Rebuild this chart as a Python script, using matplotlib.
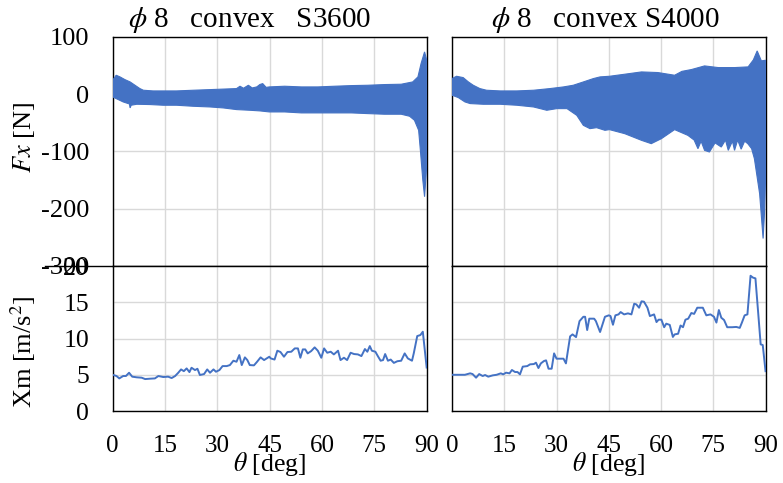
import matplotlib
matplotlib.use('Agg')
import matplotlib.pyplot as plt
from matplotlib.lines import Line2D

plt.rcParams['font.family'] = ['Liberation Serif', 'DejaVu Serif']
plt.rcParams['mathtext.fontset'] = 'stix'
plt.rcParams['axes.unicode_minus'] = False

BLUE = '#4472C4'
GRID = '#d9d9d9'

# Fx envelope (upper / lower bound of the oscillating force), S3600
fx1_up_deg = [0, 1.0, 2.1, 3.5, 5.0, 6.4, 7.8, 8.8, 11.6, 18.3, 23.1, 27.9, 35.5, 36.5, 37.5, 38.9,
              40.0, 41.3, 42.2, 43.0, 44.0, 44.9, 49.3, 54.1, 58.8, 63.6, 68.4, 73.1, 77.9, 82.7,
              86.0, 87.5, 88.4, 89.4, 90]
fx1_up = [24.5, 33.2, 30.3, 25.6, 21.5, 15.7, 9.9, 7.0, 5.8, 5.8, 7.0, 8.1, 9.9, 14.0, 10.5, 15.7,
          11.0, 12.8, 17.0, 18.6, 12.0, 12.8, 14.0, 12.8, 12.8, 14.0, 15.1, 15.7, 16.9, 17.5,
          21.5, 30.3, 53.6, 74.0, 60.0]
fx1_lo_deg = [0, 1.6, 3.0, 4.8, 5.0, 5.3, 6.9, 10.7, 14.5, 18.3, 23.1, 27.9, 31.7, 35.5, 39.4, 42.2,
              44.9, 49.3, 54.1, 58.8, 63.6, 68.4, 73.1, 77.9, 82.7, 85.1, 86.5, 87.7, 88.2, 88.9,
              89.4, 90]
fx1_lo = [-4.7, -9.3, -13.4, -17.0, -23.9, -19.2, -17.5, -18.0, -19.2, -19.2, -21.0, -22.2, -23.9,
          -26.8, -28.0, -29.1, -30.9, -30.9, -32.6, -32.6, -32.6, -32.6, -33.8, -34.9, -34.9, -38.4,
          -45.4, -62.9, -97.8, -150.0, -179.0, -127.0]

# Fx envelope, S4000
fx2_up_deg = [0, 1.3, 3.2, 4.7, 6.1, 8.0, 9.9, 13.8, 18.6, 23.4, 28.1, 32.0, 34.8, 37.7, 40.6, 42.5,
              45.2, 49.6, 54.4, 59.1, 63.9, 66.0, 68.7, 72.5, 76.4, 81.2, 85.0, 86.5, 87.6, 88.8, 90]
fx2_up = [27.4, 31.4, 29.1, 21.5, 15.7, 9.9, 7.0, 5.8, 5.8, 7.0, 9.9, 12.8, 15.7, 21.5, 27.4, 30.3,
          31.4, 35.0, 39.0, 37.9, 33.2, 40.0, 43.1, 49.5, 46.6, 46.6, 47.8, 60.0, 75.7, 58.3, 59.4]
fx2_lo_deg = [0, 1.8, 3.7, 5.2, 9.0, 13.8, 18.6, 23.4, 27.2, 30.1, 33.0, 35.8, 37.7, 39.6, 41.5,
              43.9, 45.2, 49.6, 54.4, 57.2, 60.1, 63.9, 67.7, 69.5, 70.6, 71.5, 72.5, 73.9, 75.5,
              77.3, 78.5, 79.3, 80.5, 81.1, 82.0, 83.0, 84.0, 84.9, 86.0, 86.8, 88.3, 89.3, 89.7, 90]
fx2_lo = [-1.7, -5.8, -13.4, -16.3, -17.5, -17.5, -19.2, -22.2, -28.0, -25.1, -25.1, -36.8, -54.3,
          -60.1, -58.4, -63.0, -61.8, -68.9, -80.5, -86.3, -77.6, -61.8, -71.8, -80.0, -95.1, -82.0,
          -98.0, -100.9, -85.0, -92.2, -80.0, -98.0, -82.0, -98.0, -80.0, -96.0, -82.0, -86.3,
          -95.0, -112.5, -173.6, -252.0, -208.0, -150.0]

# RMS acceleration Xm, S3600
xm1_deg = [0, 1.1, 1.9, 3.0, 3.8, 4.7, 5.6, 6.9, 8.3, 9.3, 10.7, 12.1, 13.1, 14.5, 15.9, 16.9, 17.9,
           18.8, 19.6, 20.4, 21.2, 22.0, 22.6, 23.6, 24.3, 25.0, 26.2, 27.1, 27.9, 28.9, 29.6, 30.6,
           31.5, 32.7, 33.6, 34.6, 35.5, 36.3, 37.0, 37.9, 38.6, 39.3, 40.5, 41.4, 42.4, 43.4, 44.9,
           45.3, 46.4, 47.2, 48.1, 49.1, 50.1, 51.2, 52.2, 53.1, 53.8, 54.5, 55.2, 55.9, 56.9, 57.9,
           58.8, 59.8, 60.6, 61.5, 62.5, 63.4, 64.6, 65.3, 66.3, 67.2, 68.2, 69.2, 70.3, 71.3, 72.3,
           73.0, 73.7, 74.3, 75.3, 76.0, 76.8, 77.5, 78.1, 78.9, 79.7, 80.6, 81.6, 82.7, 83.7, 84.6,
           85.8, 86.3, 87.3, 88.2, 88.9, 90]
xm1 = [5.0, 4.83, 4.5, 4.83, 4.83, 5.28, 4.74, 4.65, 4.6, 4.41, 4.46, 4.5, 4.83, 4.69, 4.74, 4.55,
       4.83, 5.28, 5.74, 5.5, 5.88, 5.37, 5.97, 5.65, 5.83, 4.97, 5.1, 5.74, 5.28, 5.74, 5.42, 5.65,
       6.2, 6.2, 6.34, 6.94, 6.8, 7.72, 6.34, 7.4, 7.03, 6.34, 6.3, 6.8, 7.4, 7.03, 7.49, 7.26, 7.1,
       8.32, 8.14, 7.49, 8.14, 8.18, 8.64, 8.64, 7.35, 8.5, 8.5, 7.95, 8.27, 8.78, 8.32, 7.35, 8.64,
       8.04, 8.18, 7.81, 8.32, 7.03, 7.35, 7.03, 8.04, 7.86, 7.81, 7.58, 8.55, 8.18, 8.96, 8.32, 8.18,
       7.58, 6.94, 7.03, 7.86, 6.94, 7.1, 6.64, 6.87, 6.94, 7.95, 7.26, 6.94, 7.95, 10.34, 10.48,
       10.94, 6.0]

# RMS acceleration Xm, S4000
xm2_deg = [0, 1.8, 3.7, 5.2, 5.9, 6.9, 7.8, 8.8, 9.5, 10.4, 11.7, 12.8, 14.0, 14.7, 15.5, 16.5, 17.2,
           18.1, 18.8, 19.5, 20.3, 21.6, 22.4, 23.5, 24.1, 24.8, 25.5, 26.4, 27.0, 27.7, 28.6, 29.3,
           30.0, 32.0, 32.7, 33.9, 34.6, 35.6, 36.6, 37.7, 38.2, 38.8, 39.4, 40.8, 41.3, 42.5, 43.9,
           45.0, 45.5, 46.2, 46.9, 47.8, 48.4, 49.4, 50.5, 51.5, 52.3, 52.9, 53.7, 54.4, 55.1, 56.1,
           56.8, 58.0, 58.7, 59.3, 60.1, 60.9, 61.5, 62.5, 63.4, 63.9, 64.9, 65.6, 66.3, 67.0, 67.8,
           68.7, 69.5, 70.4, 72.0, 73.0, 74.2, 75.2, 75.9, 76.6, 77.3, 78.1, 79.0, 80.4, 81.6, 82.6,
           83.2, 84.0, 84.8, 85.7, 86.4, 87.1, 88.0, 88.6, 89.2, 90]
xm2 = [5.0, 5.0, 5.0, 5.2, 5.1, 4.6, 5.1, 4.83, 4.97, 4.74, 4.92, 5.0, 5.2, 5.06, 5.29, 5.2, 5.66,
       5.38, 5.38, 5.06, 6.12, 6.2, 6.44, 6.48, 6.67, 5.93, 6.57, 6.9, 6.99, 5.84, 5.84, 7.95, 7.22,
       7.22, 6.57, 10.3, 10.57, 10.2, 12.4, 13.0, 13.0, 11.17, 12.74, 12.74, 12.4, 10.9, 13.0, 13.2,
       13.1, 11.9, 13.2, 13.33, 13.65, 13.33, 13.47, 13.33, 14.8, 14.71, 14.25, 15.13, 15.08, 14.25,
       13.1, 13.33, 12.27, 12.6, 12.6, 11.56, 12.05, 11.88, 10.22, 10.57, 10.66, 11.8, 11.56, 12.6,
       12.74, 13.52, 13.4, 14.25, 14.25, 13.2, 13.33, 13.0, 12.2, 13.93, 12.87, 12.55, 11.56, 11.56,
       11.6, 11.47, 12.18, 13.2, 13.33, 18.66, 18.4, 18.3, 12.87, 9.2, 9.1, 5.5]

x_ticks = [0, 15, 30, 45, 60, 75, 90]
fx_ticks = [100, 0, -100, -200, -300]
xm_ticks = [0, 5, 10, 15, 20]
titles = [r'$\phi$ 8   convex   S3600', r'$\phi$ 8   convex S4000']

fig = plt.figure(figsize=(7.83, 4.83), dpi=100)
lefts = [0.1439, 0.5773]
widths = [0.401, 0.4004]
top_axes = [fig.add_axes([l, 0.4493, w, 0.4741]) for l, w in zip(lefts, widths)]
bot_axes = [fig.add_axes([l, 0.149, w, 0.3002]) for l, w in zip(lefts, widths)]

bands = [(fx1_up_deg, fx1_up, fx1_lo_deg, fx1_lo), (fx2_up_deg, fx2_up, fx2_lo_deg, fx2_lo)]
for ax, (ud, up, ld, lo) in zip(top_axes, bands):
    # closed polygon: upper envelope forward, lower envelope back
    ax.fill(list(ud) + list(ld[::-1]), list(up) + list(lo[::-1]),
            color=BLUE, lw=0.8, zorder=3)
    ax.set_ylim(-300, 100)
    ax.set_yticks(fx_ticks)

for ax, (d, v) in zip(bot_axes, [(xm1_deg, xm1), (xm2_deg, xm2)]):
    ax.plot(d, v, color=BLUE, lw=1.4, zorder=3)
    ax.set_ylim(0, 20)
    ax.set_yticks(xm_ticks)

for ax in top_axes + bot_axes:
    ax.set_xlim(0, 90)
    ax.set_xticks(x_ticks)
    ax.grid(True, color=GRID, lw=1.0, zorder=0)
    ax.set_axisbelow(True)
    ax.tick_params(length=0, labelsize=18.5, pad=17)
    for s in ax.spines.values():
        s.set_color('black')
        s.set_linewidth(1.0)

for ax in top_axes:
    ax.tick_params(labelbottom=False, labelsize=19)
for ax in (top_axes[1], bot_axes[1]):
    ax.tick_params(labelleft=False)
for ax in bot_axes:
    ax.tick_params(axis='x', pad=17, labelsize=18)
    ax.set_xlabel(r'$\theta$ [deg]', fontsize=18.5, va='center')
    ax.xaxis.set_label_coords(0.5, -0.366)

top_axes[0].set_ylabel('$Fx$ [N]', fontsize=19, va='center')
top_axes[0].yaxis.set_label_coords(-0.283, 0.56)
bot_axes[0].set_ylabel('Xm [m/s$^2$]', fontsize=19, va='center')
bot_axes[0].yaxis.set_label_coords(-0.286, 0.41)

fig.text(250 / 783, 1 - 20 / 483, titles[0], ha='center', va='center', fontsize=21)
fig.text(605 / 783, 1 - 20 / 483, titles[1], ha='center', va='center', fontsize=21)

# frame line of the upper chart running past its left edge
fig.add_artist(Line2D([45 / 783, 0.1439], [0.4493, 0.4493], color='black', lw=1.0))

plt.savefig('out.png', dpi=100)
plt.close(fig)
